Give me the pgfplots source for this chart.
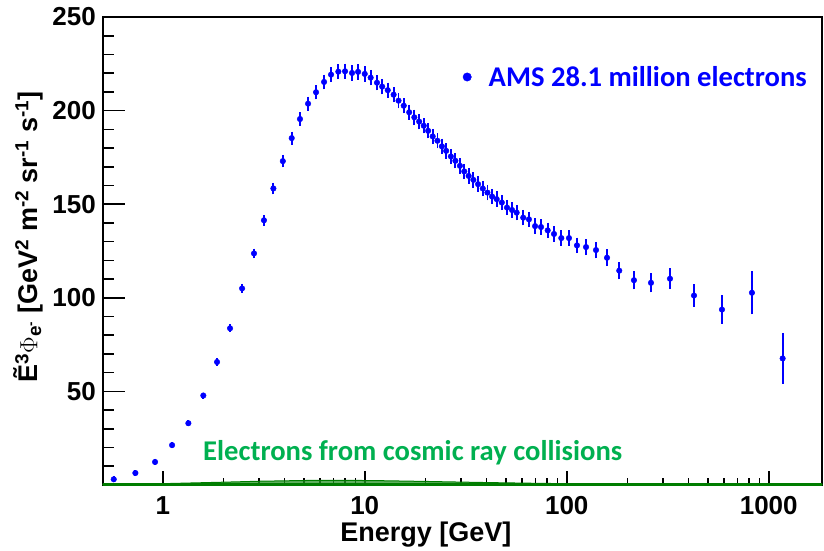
\documentclass[border=0pt]{standalone}
\usepackage{pgfplots}
\usepackage{pgfplotstable}
\pgfplotsset{compat=1.18}
\usepackage{fontspec}
\setmainfont{Liberation Sans}
\newfontfamily\carlito{Carlito}
\definecolor{amsblue}{RGB}{0,0,255}
\definecolor{crgreen}{RGB}{0,176,80}
\definecolor{banddark}{RGB}{0,125,0}
\definecolor{bandfill}{RGB}{40,150,40}

\pgfplotstableread{
E F err
0.572 3.05 0
0.732 6.4 0
0.916 12.3 0
1.112 21.3 0
1.339 33.0 0
1.588 47.8 0
1.857 65.7 0.3
2.153 83.7 0.5
2.47 105.0 0.8
2.83 123.7 1.0
3.17 141.4 1.2
3.53 158.4 1.5
3.93 173.0 1.7
4.35 185.3 1.9
4.78 195.5 2.0
5.24 203.7 2.1
5.74 209.8 2.2
6.29 215.3 2.3
6.81 219.2 2.4
7.40 220.8 2.4
7.99 221.0 2.5
8.65 220.1 2.5
9.27 220.7 2.5
10.0 219.6 2.5
10.7 217.6 2.5
11.5 214.9 2.5
12.2 212.8 2.5
13.0 210.9 2.5
13.9 208.5 2.5
14.7 205.3 2.5
15.6 202.6 2.5
16.6 199.1 2.5
17.6 196.4 2.5
18.6 194.1 2.5
19.6 191.9 2.5
20.6 189.2 2.5
21.7 186.2 2.5
22.9 183.9 2.5
24.1 180.9 2.5
25.3 178.5 2.5
26.7 175.5 2.5
28.1 173.2 2.5
29.6 170.5 2.5
31.1 167.5 2.5
32.7 165.1 2.5
34.5 163.0 2.5
36.4 160.7 2.5
38.4 158.4 2.5
40.5 156.2 2.5
42.7 154.1 2.5
45.0 152.7 2.5
47.7 150.9 2.5
50.6 148.2 2.5
53.6 146.9 2.5
56.5 145.5 2.5
60.9 142.8 2.5
65.0 141.9 2.5
69.7 138.3 2.5
74.6 137.8 2.5
80.5 136.0 2.5
86.5 134.1 2.5
94.0 131.9 2.5
102.6 131.9 2.6
112.4 128.0 2.6
124.6 127.1 2.7
139.6 125.5 2.8
158.3 121.4 2.9
182.0 114.5 3.0
215.2 109.4 3.3
261.3 108.0 3.5
324.5 110.2 4.0
426.6 101.2 4.4
587 93.7 6.0
826 102.7 10.0
1172 67.6 12.0
}\amsdata

\pgfplotstableread{
E U
0.506 0.5
1 0.7
2 1.5
3 2.0
5 2.4
8 2.5
12 2.3
20 1.9
40 1.3
70 0.9
100 0.7
200 0.5
1836 0.4
}\banddata

\newcommand\tickfont{\bfseries\fontsize{26bp}{26bp}\selectfont}
\newcommand\labfont{\bfseries\fontsize{27bp}{27bp}\selectfont}
\newcommand\annfont{\carlito\bfseries\fontsize{28.6bp}{28.6bp}\selectfont}

\begin{document}
\begin{tikzpicture}
\useasboundingbox (0,0) rectangle (824bp,551bp);
\begin{axis}[
  at={(103bp,66bp)}, anchor=south west,
  scale only axis, width=719bp, height=468bp,
  xmode=log, xmin=0.506, xmax=1836, ymin=0, ymax=250,
  clip=false,
  xtick={1,10,100,1000}, xticklabels={1,10,100,1000},
  ytick={50,100,150,200,250}, minor ytick={10,20,...,240},
  tick align=inside, xtick pos=bottom, ytick pos=left,
  major tick length=22bp, minor tick length=11bp,
  xtick style={/pgfplots/major tick length=14bp, /pgfplots/minor tick length=7bp},
  tick style={black, line width=1.6bp},
  axis line style={line width=1.6bp},
  /pgf/number format/assume math mode=true,
  ticklabel style={font=\tickfont, inner sep=0pt},
  xticklabel style={anchor=base, yshift=-29bp},
  yticklabel style={anchor=east, xshift=-7bp},
  xlabel={Energy [GeV]},
  xlabel style={at={(rel axis cs:0.449,0)}, anchor=base, yshift=-56bp, inner sep=0pt, font=\labfont},
  ylabel={\~{E}\textsuperscript{3}$\Phi$\textsubscript{e\textsuperscript{-}} [GeV\textsuperscript{2} m\textsuperscript{-2} sr\textsuperscript{-1} s\textsuperscript{-1}]},
  ylabel style={at={(rel axis cs:-0.104,0.53)}, anchor=center, inner sep=0pt, font=\labfont},
  legend style={at={(rel axis cs:0.5004,0.8718)}, anchor=west, draw=none, fill=none,
    inner sep=0pt, outer sep=0pt, font=\annfont, text=amsblue, nodes={inner sep=0pt}},
  legend image code/.code={\fill[amsblue] (0bp,0bp) circle (4.2bp); \path (21.3bp,0bp);},
]
\addplot[fill=bandfill, fill opacity=0.75, draw=banddark, line width=1bp, forget plot] table[x=E,y=U] {\banddata} \closedcycle;
\addplot[banddark, line width=3bp, forget plot] coordinates {(0.506,0.4) (1836,0.4)};
\addplot[only marks, mark=*, mark size=2.8bp, color=amsblue,
  mark options={fill=amsblue, draw=amsblue},
  error bars/.cd, y dir=both, y explicit,
  error bar style={line width=1.8bp, amsblue},
  error mark options={line width=1.8bp, mark size=3bp, amsblue}]
  table[x=E, y=F, y error=err] {\amsdata};
\addlegendentry{AMS 28.1 million electrons}
\node[anchor=base west, inner sep=0pt, text=crgreen, font=\annfont] at (axis cs:1.583,12.85) {Electrons from cosmic ray collisions};
\end{axis}
\end{tikzpicture}
\end{document}
